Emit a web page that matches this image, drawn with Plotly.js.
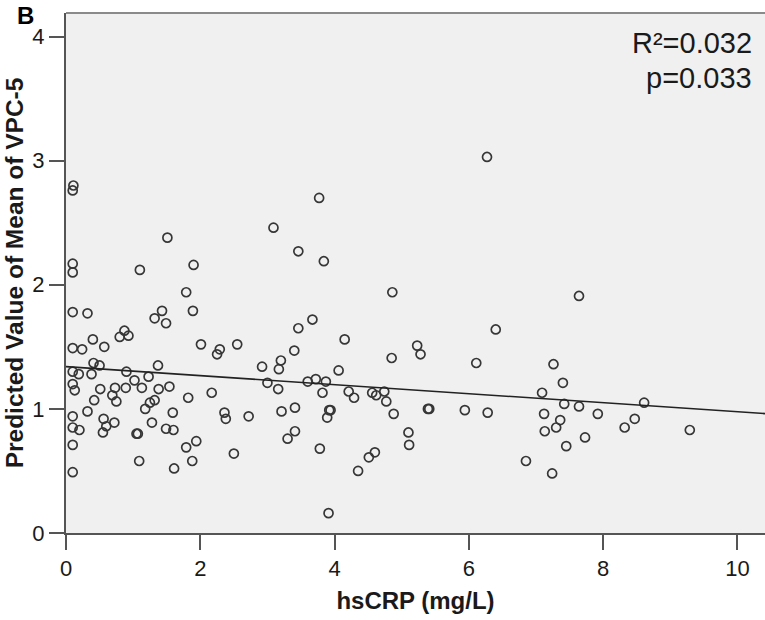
<!DOCTYPE html>
<html>
<head>
<meta charset="utf-8">
<script src="https://cdn.plot.ly/plotly-3.0.1.min.js"></script>
<style>
  html, body { margin: 0; padding: 0; background: #ffffff; }
  #chart { width: 765px; height: 620px; }
</style>
</head>
<body>
<div id="chart"></div>
<script>
// hsCRP (mg/L) values of each subject
const hsCRP = [
  0.11, 0.10, 1.51, 0.10, 0.10, 1.90, 1.10, 1.79, 0.10, 0.32,
  1.43, 1.32, 1.49, 1.89, 0.40, 0.87, 0.80, 0.93, 0.10, 0.24,
  0.57, 2.01, 2.29, 2.25, 2.55, 0.41, 0.50, 1.37, 0.10, 0.19,
  0.38, 0.90, 1.02, 1.23, 0.10, 0.13, 0.51, 0.73, 0.89, 1.13,
  1.38, 1.54, 0.69, 0.75, 0.42, 1.82, 2.17, 0.32, 1.18, 1.25,
  1.32, 1.59, 2.36, 2.38, 0.10, 0.10, 0.20, 0.56, 0.60, 0.72,
  0.55, 1.28, 1.05, 1.07, 1.49, 1.60, 0.10, 1.79, 1.94, 2.50,
  1.09, 1.88, 1.61, 0.10, 3.77, 3.09, 3.46, 3.84, 4.86, 3.67,
  3.46, 4.15, 5.23, 5.28, 4.85, 3.40, 3.20, 2.92, 3.17, 4.06,
  3.00, 3.16, 3.60, 3.72, 3.87, 3.82, 4.21, 4.29, 4.56, 4.62,
  4.74, 4.77, 4.88, 5.39, 5.41, 2.72, 3.21, 3.41, 3.92, 3.94,
  3.89, 3.41, 3.30, 5.10, 5.11, 3.78, 4.60, 4.51, 4.35, 3.91,
  6.27, 7.64, 6.40, 6.11, 7.26, 7.40, 7.09, 5.94, 6.28, 7.42,
  7.64, 7.12, 7.92, 7.36, 7.30, 7.13, 8.32, 7.73, 7.45, 6.85,
  7.24, 8.61, 8.47, 9.29
];
// Predicted value of mean of VPC-5 for each subject
const vpc5 = [
  2.80, 2.76, 2.38, 2.17, 2.10, 2.16, 2.12, 1.94, 1.78, 1.77,
  1.79, 1.73, 1.69, 1.79, 1.56, 1.63, 1.58, 1.59, 1.49, 1.48,
  1.50, 1.52, 1.48, 1.44, 1.52, 1.37, 1.35, 1.35, 1.30, 1.28,
  1.28, 1.30, 1.23, 1.26, 1.20, 1.15, 1.16, 1.17, 1.17, 1.17,
  1.16, 1.18, 1.11, 1.06, 1.07, 1.09, 1.13, 0.98, 1.00, 1.05,
  1.07, 0.97, 0.97, 0.92, 0.94, 0.85, 0.83, 0.92, 0.86, 0.89,
  0.81, 0.89, 0.80, 0.80, 0.84, 0.83, 0.71, 0.69, 0.74, 0.64,
  0.58, 0.58, 0.52, 0.49, 2.70, 2.46, 2.27, 2.19, 1.94, 1.72,
  1.65, 1.56, 1.51, 1.44, 1.41, 1.47, 1.39, 1.34, 1.32, 1.31,
  1.21, 1.16, 1.22, 1.24, 1.22, 1.13, 1.14, 1.09, 1.13, 1.11,
  1.14, 1.06, 0.96, 1.00, 1.00, 0.94, 0.98, 1.01, 0.99, 0.99,
  0.93, 0.82, 0.76, 0.81, 0.71, 0.68, 0.65, 0.61, 0.50, 0.16,
  3.03, 1.91, 1.64, 1.37, 1.36, 1.21, 1.13, 0.99, 0.97, 1.04,
  1.02, 0.96, 0.96, 0.91, 0.85, 0.82, 0.85, 0.77, 0.70, 0.58,
  0.48, 1.05, 0.92, 0.83
];
// fitted regression line end points
const fitX = [0, 10.41];
const fitY = [1.341, 0.962];
// tick labels
const xTicks = [0, 2, 4, 6, 8, 10];
const yTicks = [0, 1, 2, 3, 4];
const statText = ["R\u00B2=0.032", "p=0.033"];

const FONT = '"Liberation Sans", Arial, "DejaVu Sans", sans-serif';
const AXC = '#555555';

const traces = [
  {
    x: hsCRP, y: vpc5, type: 'scatter', mode: 'markers',
    marker: { symbol: 'circle-open', size: 9, color: '#363636', line: { width: 1.7, color: '#363636' } },
    hoverinfo: 'x+y', showlegend: false
  },
  {
    x: fitX, y: fitY, type: 'scatter', mode: 'lines',
    line: { color: '#222222', width: 1.6 },
    hoverinfo: 'skip', showlegend: false
  }
];

const layout = {
  width: 765, height: 620,
  margin: { l: 66, r: 0, t: 13, b: 87, pad: 0 },
  paper_bgcolor: '#ffffff',
  plot_bgcolor: '#f0f0f0',
  font: { family: FONT, size: 22, color: '#1a1a1a' },
  showlegend: false,
  xaxis: {
    range: [0, 10.41], tickvals: xTicks, ticktext: xTicks.map(String),
    showgrid: false, zeroline: false,
    showline: true, linecolor: AXC, linewidth: 2,
    ticks: 'outside', ticklen: 15, tickwidth: 2, tickcolor: AXC,
    tickfont: { family: FONT, size: 22, color: '#1a1a1a' },
    title: { text: 'hsCRP (mg/L)', font: { family: FONT, size: 24, color: '#1a1a1a', weight: 'bold' }, standoff: 12 }
  },
  yaxis: {
    range: [0, 4.19], tickvals: yTicks, ticktext: yTicks.map(String),
    showgrid: false, zeroline: false,
    showline: true, linecolor: AXC, linewidth: 2,
    ticks: 'outside', ticklen: 15, tickwidth: 2, tickcolor: AXC,
    tickfont: { family: FONT, size: 22, color: '#1a1a1a' },
    title: { text: 'Predicted Value of Mean of VPC-5', font: { family: FONT, size: 24.5, color: '#1a1a1a', weight: 'bold' }, standoff: 2 }
  },
  shapes: [
    { type: 'line', xref: 'paper', yref: 'paper', x0: 0, x1: 1, y0: 1, y1: 1,
      line: { color: '#8a8a8a', width: 2 } }
  ],
  annotations: [
    { text: '<b>B</b>', xref: 'paper', yref: 'paper', x: -0.058, y: 0.995,
      xanchor: 'center', yanchor: 'middle', showarrow: false, borderpad: 0,
      font: { family: FONT, size: 24, color: '#000000' } },
    { text: statText[0], xref: 'x', yref: 'y', x: 10.24, y: 3.95,
      xanchor: 'right', yanchor: 'middle', showarrow: false,
      font: { family: FONT, size: 29, color: '#1a1a1a' } },
    { text: statText[1], xref: 'x', yref: 'y', x: 10.24, y: 3.67,
      xanchor: 'right', yanchor: 'middle', showarrow: false,
      font: { family: FONT, size: 29, color: '#1a1a1a' } }
  ]
};

Plotly.newPlot('chart', traces, layout, { displayModeBar: false, staticPlot: true });
</script>
</body>
</html>
